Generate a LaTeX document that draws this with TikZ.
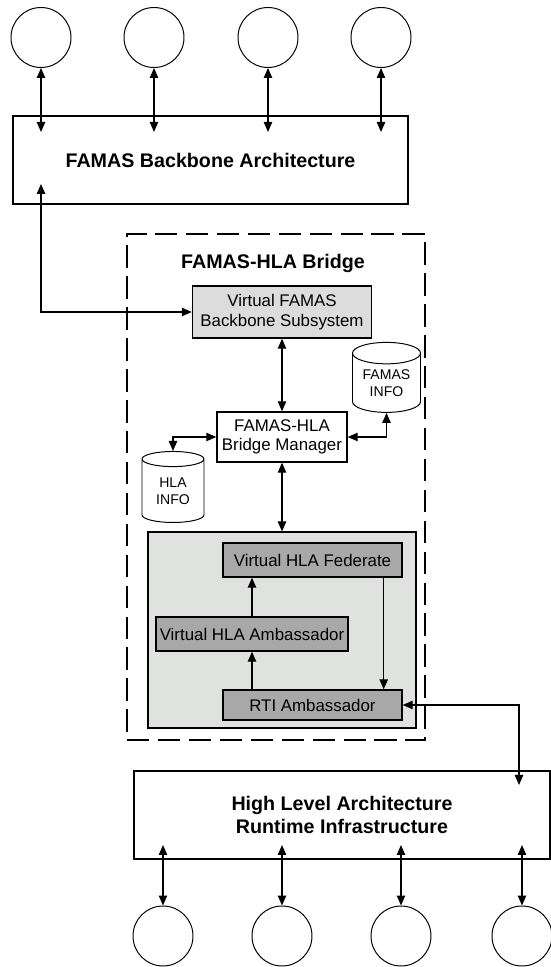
\documentclass[tikz,border=0pt]{standalone}
\usepackage{fontspec}
\setmainfont{Liberation Sans}
\usetikzlibrary{arrows.meta, shapes.geometric}
\definecolor{paleg}{RGB}{220,220,220}
\definecolor{fedg}{RGB}{223,226,223}
\definecolor{darkg}{RGB}{168,168,168}
\tikzstyle{site} = [draw, circle, line width=0.7pt, minimum size=1.5cm, inner sep=0mm]
\tikzstyle{arch} = [draw, rectangle, line width=1pt, align=center, font=\fontsize{14}{17}\selectfont\bfseries]
\tikzstyle{comp} = [draw, rectangle, line width=1pt, align=center, inner sep=0mm, font=\fontsize{12}{14}\selectfont]
\tikzstyle{light} = [comp, fill=paleg]
\tikzstyle{dark} = [comp, fill=darkg, minimum height=0.85cm]
\tikzstyle{store} = [draw, cylinder, shape border rotate=90, aspect=0.45, line width=0.7pt, fill=white, align=center, inner sep=0mm, font=\fontsize{10}{12}\selectfont]

\begin{document}
\begin{tikzpicture}[>={Triangle[length=2.5mm, width=2.1mm]}, line width=0.8pt]
    \useasboundingbox (0, 0) rectangle (13.775, 24.175);
    %\draw[help lines] (0, 0) grid (14, 24);

    % backbone and its sites
    \node[arch, minimum width=9.875cm, minimum height=2.2cm] (fba) at (5.2625, 20.175) {FAMAS Backbone Architecture};
    \foreach \i/\x in {0/1.025, 1/3.85, 2/6.7, 3/9.525} {
        \node[site] (fsite\i) at (\x, 23.2375) {};
        \coordinate (fin\i) at (\x, 20.875);
        \draw[<->] (fsite\i) -- (fin\i);
    }
    \coordinate (fout) at (1.025, 19.575);

    % bridge
    \node[draw, dash pattern=on 16pt off 6pt, minimum width=7.45cm, minimum height=12.65cm] (bridge) at (6.9, 12) {};
    \node[font=\fontsize{14}{17}\selectfont\bfseries] (bridgetitle) at (6.825, 17.6) {FAMAS-HLA Bridge};
    \node[light, minimum width=4.475cm, minimum height=1.3cm] (vfb) at (7.05, 16.375) {Virtual FAMAS\\Backbone Subsystem};
    \node[comp, minimum width=3.25cm, minimum height=1.25cm] (mgr) at (7.05, 13.25) {FAMAS-HLA\\Bridge Manager};
    \node[store, minimum width=1.7cm, minimum height=1.75cm] (finfo) at (9.6625, 14.6) {FAMAS\\INFO};
    \node[store, minimum width=1.55cm, minimum height=1.775cm] (hinfo) at (4.325, 11.9) {HLA\\INFO};

    \draw[<->] (fout) |- (vfb);
    \draw[<->] (vfb) -- (mgr);
    \draw[<->] (mgr) -| (finfo);
    \draw[<->] (mgr) -| (hinfo);

    % virtual federate
    \node[draw, fill=fedg, minimum width=6.7cm, minimum height=4.9cm] (fed) at (7.05, 8.425) {};
    \node[dark, minimum width=4.475cm] (vhf) at (7.8125, 10.175) {Virtual HLA Federate};
    \node[dark, minimum width=4.8cm] (vha) at (6.3, 8.325) {Virtual HLA Ambassador};
    \node[dark, minimum width=4.475cm, minimum height=0.75cm] (rti) at (7.8125, 6.55) {RTI Ambassador};
    \draw[<->] (mgr) -- (fed);
    \draw[->] (vha) -- (vha |- vhf.south);
    \draw[->] (vha |- rti.north) -- (vha);
    \draw[->] ([xshift=-0.475cm]vhf.south east) -- ([xshift=-0.475cm]rti.north east);

    % runtime infrastructure and its federates
    \node[arch, minimum width=10.4cm, minimum height=2.2cm] (hrti) at (8.55, 3.8) {High Level Architecture\\Runtime Infrastructure};
    \coordinate (rtiin) at (12.975, 4.55);
    \draw[<->] (rti) -| (rtiin);
    \foreach \i/\x in {0/4.075, 1/7.05, 2/10.025, 3/13.05} {
        \node[site] (hsite\i) at (\x, 0.775) {};
        \coordinate (hin\i) at (\x, 3.05);
        \draw[<->] (hin\i) -- (hsite\i);
    }
\end{tikzpicture}
\end{document}
